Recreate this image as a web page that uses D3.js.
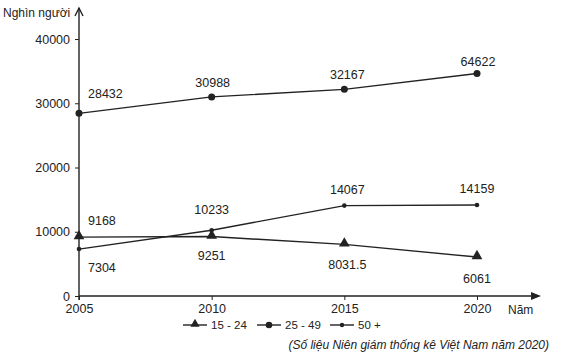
<!DOCTYPE html>
<html>
<head>
<meta charset="utf-8">
<script src="https://cdn.jsdelivr.net/npm/d3@7"></script>
<style>
  body { margin: 0; background: #fff; }
  text { font-family: "Liberation Sans", Arial, sans-serif; fill: #222; }
</style>
</head>
<body>
<div id="chart"></div>
<script>
// Data
const years = [2005, 2010, 2015, 2020];
const yTicks = [0, 10000, 20000, 30000, 40000];
const age1524 = [9168, 9251, 8031.5, 6061];
const age2549 = [28432, 30988, 32167, 34622];
const age50 = [7304, 10233, 14067, 14159];
// printed labels (the source prints 64622 for 2020)
const labels2549 = ["28432", "30988", "32167", "64622"];

const W = 561, H = 354;
const ink = "#222";

const svg = d3.select("#chart").append("svg")
  .attr("width", W).attr("height", H);

const x = d3.scaleLinear().domain([2005, 2020]).range([79, 477]);
const y = d3.scaleLinear().domain([0, 40000]).range([296, 39]);

// Y axis
const yAxis = svg.append("g")
  .attr("transform", `translate(${x(2005)},0)`)
  .call(d3.axisLeft(y).tickValues(yTicks).tickSize(4).tickPadding(5).tickFormat(d3.format("d")));
yAxis.select(".domain").remove();
yAxis.selectAll("line").attr("stroke", ink);
yAxis.selectAll("text").style("font-size", "12.5px").attr("fill", ink);

svg.append("line")
  .attr("x1", x(2005)).attr("x2", x(2005))
  .attr("y1", y(0) + 4).attr("y2", 8)
  .attr("stroke", ink).attr("stroke-width", 1.4);
svg.append("path")
  .attr("d", `M${x(2005) - 4},16 L${x(2005)},8 L${x(2005) + 4},16`)
  .attr("fill", "none").attr("stroke", ink).attr("stroke-width", 1.4);

// X axis
const xAxis = svg.append("g")
  .attr("transform", `translate(0,${y(0)})`)
  .call(d3.axisBottom(x).tickValues(years).tickSize(4).tickPadding(4).tickFormat(d3.format("d")));
xAxis.select(".domain").remove();
xAxis.selectAll("line").attr("stroke", ink);
xAxis.selectAll("text").style("font-size", "12.5px").attr("fill", ink);

svg.append("line")
  .attr("x1", x(2005)).attr("x2", 533)
  .attr("y1", y(0)).attr("y2", y(0))
  .attr("stroke", ink).attr("stroke-width", 1.4);
svg.append("path")
  .attr("d", `M541,${y(0)} L531,${y(0) - 4} L531,${y(0) + 4} Z`)
  .attr("fill", ink);

svg.append("text").attr("x", 508).attr("y", 314)
  .style("font-size", "12px").text("Năm");
svg.append("text").attr("x", 3).attr("y", 17)
  .style("font-size", "12px").text("Nghìn người");

// Lines
const line = d3.line().x((d, i) => x(years[i])).y(d => y(d));
[age1524, age2549, age50].forEach(s => {
  svg.append("path").attr("d", line(s))
    .attr("fill", "none").attr("stroke", ink).attr("stroke-width", 1.4);
});

const tri = d3.symbol().type(d3.symbolTriangle).size(50);
svg.selectAll(".m1524").data(age1524).join("path")
  .attr("d", tri)
  .attr("transform", (d, i) => `translate(${x(years[i])},${y(d) - 1})`)
  .attr("fill", ink);
svg.selectAll(".m2549").data(age2549).join("circle")
  .attr("cx", (d, i) => x(years[i])).attr("cy", d => y(d))
  .attr("r", 3.5).attr("fill", ink);
svg.selectAll(".m50").data(age50).join("circle")
  .attr("cx", (d, i) => x(years[i])).attr("cy", d => y(d))
  .attr("r", 2.3).attr("fill", ink);

// Value labels
const fmt = d => String(d);
function addLabels(vals, texts, place) {
  svg.append("g").selectAll("text").data(vals).join("text")
    .attr("x", (d, i) => x(years[i]) + place[i][0])
    .attr("y", (d, i) => y(d) + place[i][1])
    .attr("text-anchor", (d, i) => place[i][2])
    .style("font-size", "12.5px")
    .text((d, i) => texts[i]);
}
addLabels(age2549, labels2549, [[9, -15, "start"], [1, -10, "middle"], [3, -10, "middle"], [1, -8, "middle"]]);
addLabels(age1524, age1524.map(fmt), [[9, -12, "start"], [0, 23, "middle"], [3, 25, "middle"], [0, 26, "middle"]]);
addLabels(age50, age50.map(fmt), [[9, 23, "start"], [0, -16, "middle"], [3, -12, "middle"], [0, -12, "middle"]]);

// Legend
const legend = svg.append("g").attr("transform", "translate(0,325)");
const items = [
  {name: "15 - 24", x: 183, mark: "tri"},
  {name: "25 - 49", x: 257, mark: "big"},
  {name: "50 +", x: 330, mark: "small"}
];
items.forEach(it => {
  legend.append("line").attr("x1", it.x).attr("x2", it.x + 24)
    .attr("stroke", ink).attr("stroke-width", 1.4);
  if (it.mark === "tri") {
    legend.append("path").attr("d", d3.symbol().type(d3.symbolTriangle).size(36))
      .attr("transform", `translate(${it.x + 12},-1)`).attr("fill", ink);
  } else {
    legend.append("circle").attr("cx", it.x + 12).attr("r", it.mark === "big" ? 3.3 : 2.2).attr("fill", ink);
  }
  legend.append("text").attr("x", it.x + 28).attr("y", 4)
    .style("font-size", "11.5px").text(it.name);
});

svg.append("text").attr("x", 549).attr("y", 349)
  .attr("text-anchor", "end")
  .style("font-size", "12px").style("font-style", "italic")
  .text("(Số liệu Niên giám thống kê Việt Nam năm 2020)");
</script>
</body>
</html>
